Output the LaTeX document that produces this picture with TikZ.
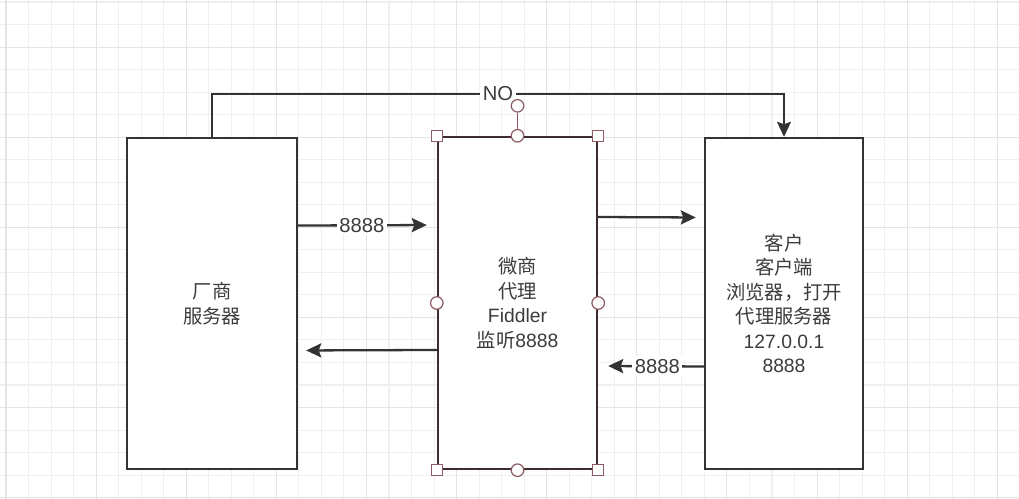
\documentclass[tikz,border=0pt]{standalone}
\usepackage{fontspec}
\setmainfont{Liberation Sans}
\newfontfamily\cjk{Noto Sans CJK SC}
\usetikzlibrary{arrows.meta}
\definecolor{griglia}{HTML}{EFEFEF}
\definecolor{grigliaforte}{HTML}{E4E4E4}
\definecolor{bordo}{HTML}{333333}
\definecolor{selez}{HTML}{3E2B30}
\definecolor{maniglia}{HTML}{8C5C62}
\definecolor{testo}{HTML}{3C3C3C}
\tikzset{
  scatola/.style={draw=bordo, line width=1.4pt, fill=white, text=testo, align=center,
    font=\fontsize{11pt}{13.9pt}\selectfont, minimum width=#1, minimum height=6.62cm, inner sep=0pt},
  freccia/.style={draw=bordo, line width=1.3pt, -{Stealth[length=0.3cm,width=0.28cm,inset=0.05cm]}},
  etichetta/.style={fill=white, text=testo, inner sep=1.5pt, font=\fontsize{11.5pt}{13pt}\selectfont},
  quadretto/.style={draw=maniglia, fill=white, line width=0.7pt, minimum size=0.22cm, inner sep=0pt},
  pallino/.style={draw=maniglia, fill=white, line width=0.7pt, circle, minimum size=0.25cm, inner sep=0pt},
}
\begin{document}
\begin{tikzpicture}[x=0.02cm,y=-0.02cm]
    \useasboundingbox (0,0) rectangle (1019,499);
    %griglia
    \foreach \i in {0,...,44} \draw[griglia, line width=0.6pt] ({6+22.53*\i},0) -- ++(0,499);
    \foreach \j in {0,...,22} \draw[griglia, line width=0.6pt] (0,{2+22.53*\j}) -- ++(1019,0);
    \foreach \i in {0,4,...,44} \draw[grigliaforte, line width=0.6pt] ({6+22.53*\i},0) -- ++(0,499);
    \foreach \j in {2,6,...,22} \draw[grigliaforte, line width=0.6pt] (0,{2+22.53*\j}) -- ++(1019,0);
    %scatole
    \node[scatola=3.4cm] (fornitore) at (212,303.5) {{\cjk 厂商}\\{\cjk 服务器}};
    \node[scatola=3.18cm, draw=selez, minimum height=6.64cm] (proxy) at (517.5,303)
        {{\cjk 微商}\\{\cjk 代理}\\Fiddler\\{\cjk 监听}8888};
    \node[scatola=3.16cm] (cliente) at (784,303.5)
        {{\cjk 客户}\\{\cjk 客户端}\\{\cjk 浏览器，打开}\\{\cjk 代理服务器}\\127.0.0.1\\8888};
    %frecce
    \draw[freccia, shorten >=0.2cm] ([yshift=1.56cm]fornitore.east) -- ([yshift=1.56cm]proxy.west)
        node[etichetta, pos=0.46]{8888};
    \draw[freccia, shorten >=0.16cm] ([yshift=1.72cm]proxy.east) -- ([yshift=1.72cm]cliente.west);
    \draw[freccia, shorten >=0.16cm] ([yshift=-0.94cm]proxy.west) -- ([yshift=-0.94cm]fornitore.east);
    \draw[freccia, shorten >=0.2cm] ([yshift=-1.26cm]cliente.west) -- ([yshift=-1.26cm]proxy.east)
        node[etichetta, pos=0.44]{8888};
    \draw[freccia] (fornitore.north) -- ++(0,-43) -| (cliente.north)
        node[etichetta, pos=0.25]{NO};
    %maniglie di selezione
    \node[quadretto] (hnw) at (proxy.north west) {};
    \node[quadretto] (hne) at (proxy.north east) {};
    \node[quadretto] (hsw) at (proxy.south west) {};
    \node[quadretto] (hse) at (proxy.south east) {};
    \node[pallino] (hn) at (proxy.north) {};
    \node[pallino] (hs) at (proxy.south) {};
    \node[pallino] (hw) at (proxy.west) {};
    \node[pallino] (he) at (proxy.east) {};
    \node[pallino] (hrot) at ([yshift=0.6cm]proxy.north) {};
    \draw[maniglia, line width=0.7pt] (hrot) -- (hn);
\end{tikzpicture}
\end{document}
